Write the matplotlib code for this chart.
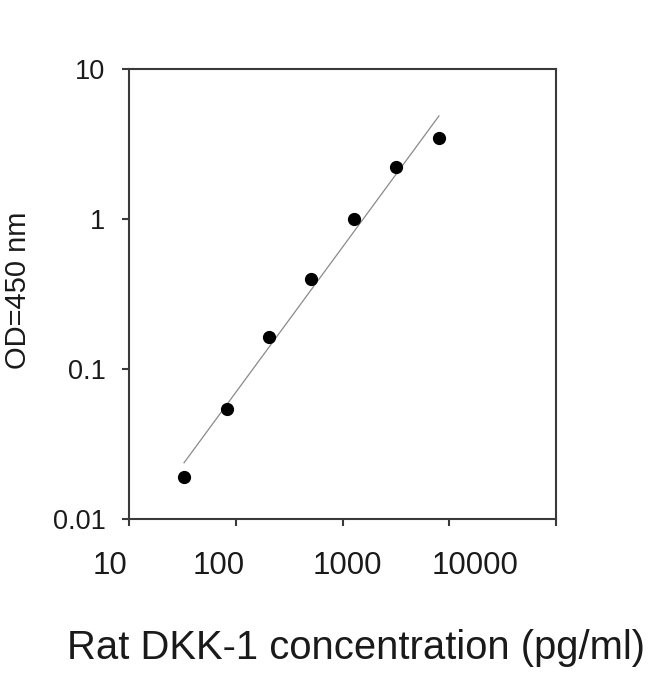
"""
Rat DKK-1 standard curve (log-log)
"""

import matplotlib

matplotlib.use("Agg")
import matplotlib.pyplot as plt
from matplotlib.ticker import FixedLocator, NullLocator
from matplotlib.transforms import ScaledTranslation

# ------------------------------------------------------------------------------------
# Data
# ------------------------------------------------------------------------------------
concentration = [32.77, 81.92, 204.8, 512, 1280, 3200, 8000]
od_450 = [0.0191, 0.0538, 0.163, 0.398, 1.005, 2.23, 3.45]

fit_x = [32.77, 8000]
fit_y = [0.0237, 4.86]

x_ticks = [10, 100, 1000, 10000, 100000]
x_tick_labels = ["10", "100", "1000", "10000", ""]
y_ticks = [0.01, 0.1, 1, 10]
y_tick_labels = ["0.01", "0.1", "1", "10"]

# the source picture draws its x labels a little off the ticks (pixels)
x_label_shift = [-19, -17, 5, 26, 0]

plt.rcParams["font.family"] = ["Liberation Sans", "DejaVu Sans"]

fig = plt.figure(figsize=(6.5, 6.74), dpi=100)
ax = fig.add_axes([129 / 650, 155 / 674, 427 / 650, 450 / 674])

ax.plot(fit_x, fit_y, color="#8a8a8a", linewidth=0.9, zorder=2)
ax.plot(
    concentration,
    od_450,
    linestyle="none",
    marker="o",
    markersize=8.5,
    color="black",
    zorder=3,
)

ax.set_xscale("log")
ax.set_yscale("log")
ax.set_xlim(10, 100000)
ax.set_ylim(0.01, 10)

ax.xaxis.set_major_locator(FixedLocator(x_ticks))
ax.yaxis.set_major_locator(FixedLocator(y_ticks))
ax.xaxis.set_minor_locator(NullLocator())
ax.yaxis.set_minor_locator(NullLocator())
ax.set_xticklabels(x_tick_labels)
ax.set_yticklabels(y_tick_labels)

spine_color = "#3a3a3a"
for s in ax.spines.values():
    s.set_color(spine_color)
    s.set_linewidth(1.5)

ax.tick_params(
    axis="both",
    direction="out",
    length=5,
    width=1.5,
    color=spine_color,
    labelcolor="#1a1a1a",
)
ax.tick_params(axis="x", pad=18, labelsize=22.5)
ax.tick_params(axis="y", pad=12, labelsize=19.5)

for lab, dx in zip(ax.get_xticklabels(), x_label_shift):
    lab.set_transform(
        lab.get_transform() + ScaledTranslation(dx / 100, 0, fig.dpi_scale_trans)
    )

fig.text(
    18 / 650,
    1 - 290 / 674,
    "OD=450 nm",
    rotation=90,
    ha="center",
    va="center",
    fontsize=21,
    color="#1a1a1a",
)
fig.text(
    356 / 650,
    1 - 648 / 674,
    "Rat DKK-1 concentration (pg/ml)",
    ha="center",
    va="center",
    fontsize=28.8,
    color="#1a1a1a",
)

fig.savefig("out.png", dpi=100)
